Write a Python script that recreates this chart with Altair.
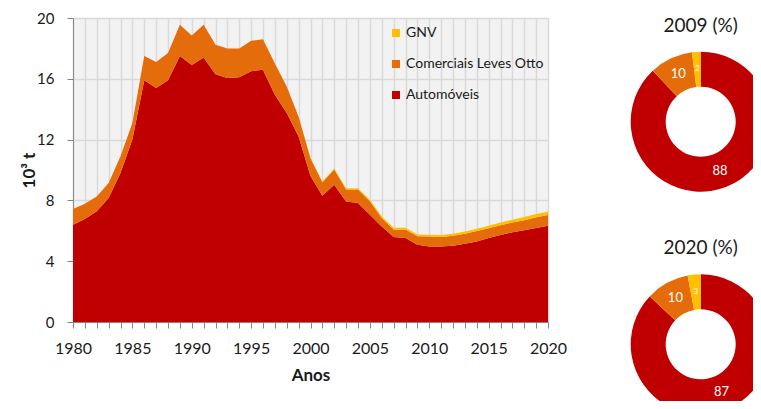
import altair as alt
import pandas as pd

# ---------------- data ----------------
years = list(range(1980, 2021))
automoveis = [6.40, 6.77, 7.28, 8.16, 9.80, 12.00, 15.90, 15.40, 15.90, 17.50,
              16.90, 17.40, 16.30, 16.05, 16.10, 16.50, 16.60, 14.95, 13.75, 12.20,
              9.60, 8.30, 9.03, 7.93, 7.83, 7.06, 6.29, 5.59, 5.53, 5.08,
              4.97, 4.97, 5.02, 5.15, 5.30, 5.52, 5.72, 5.90, 6.03, 6.18, 6.34]
comerciais = [1.03, 1.01, 0.98, 0.98, 1.10, 1.10, 1.60, 1.70, 1.80, 2.06,
              1.95, 2.16, 1.94, 1.95, 1.90, 2.00, 2.00, 2.05, 1.75, 1.30,
              1.17, 0.90, 1.00, 0.79, 0.88, 0.89, 0.56, 0.50, 0.56, 0.56,
              0.65, 0.62, 0.65, 0.66, 0.68, 0.65, 0.65, 0.64, 0.67, 0.71, 0.70]
gnv = [0.0] * 20 + [0.03, 0.05, 0.07, 0.08, 0.09, 0.10, 0.10, 0.11, 0.11, 0.11,
                    0.12, 0.13, 0.14, 0.15, 0.16, 0.17, 0.18, 0.19, 0.20, 0.21, 0.22]

series_names = ["GNV", "Comerciais Leves Otto", "Automóveis"]
series_colors = ["#FFC000", "#E46C0A", "#C00000"]
stack_rank = {"Automóveis": 0, "Comerciais Leves Otto": 1, "GNV": 2}

donut_titles = ["2009 (%)", "2020 (%)"]
share_2009 = [88, 10, 2]   # Automóveis, Comerciais Leves Otto, GNV
share_2020 = [87, 10, 3]
donut_series = ["Automóveis", "Comerciais Leves Otto", "GNV"]

y_ticks = [0, 4, 8, 12, 16, 20]

# ---------------- tables ----------------
rows = []
for i, yr in enumerate(years):
    for name, vals in (("Automóveis", automoveis), ("Comerciais Leves Otto", comerciais), ("GNV", gnv)):
        rows.append({"year": yr, "series": name, "value": vals[i], "ord": stack_rank[name]})
df = pd.DataFrame(rows)

def donut_df(shares):
    return pd.DataFrame({"series": donut_series, "value": shares,
                         "ord": [stack_rank[s] for s in donut_series]})

FONT = "Lato"
color_scale = alt.Scale(domain=series_names, range=series_colors)

area = alt.Chart(df).mark_area(interpolate="linear").encode(
    x=alt.X("year:Q",
            scale=alt.Scale(domain=[1980, 2020], nice=False, zero=False),
            axis=alt.Axis(values=years, format="d", labelOverlap=False, labelFlush=False,
                          labelExpr="datum.value % 5 == 0 ? datum.label : ''",
                          title="Anos", grid=True)),
    y=alt.Y("value:Q", stack="zero",
            scale=alt.Scale(domain=[0, 20], nice=False),
            axis=alt.Axis(values=y_ticks, title="10³ t", grid=True,
                          labelFontSize=15, labelPadding=13, titlePadding=-2)),
    color=alt.Color("series:N", scale=color_scale,
                    legend=alt.Legend(title=None, orient="none", legendX=316, legendY=8,
                                      symbolType="square", symbolSize=64, symbolStrokeWidth=0,
                                      labelFontSize=14, labelFont=FONT, labelColor="#1a1a1a",
                                      rowPadding=17, labelOffset=3, padding=0)),
    order=alt.Order("ord:Q", sort="ascending"),
)

CX = 627.7
CENTERS_Y = [103.7, 326.3]
TITLE_Y = [8, 229.7]

layers = [area]
for title, shares, cy, ty in zip(donut_titles, [share_2009, share_2020], CENTERS_Y, TITLE_Y):
    d = donut_df(shares)
    arc = alt.Chart(d).mark_arc(innerRadius=35, outerRadius=70).encode(
        theta=alt.Theta("value:Q", stack=True),
        color=alt.Color("series:N", scale=color_scale),
        order=alt.Order("ord:Q", sort="ascending"),
        x=alt.value(CX), y=alt.value(cy),
    )
    lab = alt.Chart(d).mark_text(radius=52.5, color="white", font=FONT).encode(
        theta=alt.Theta("value:Q", stack=True),
        order=alt.Order("ord:Q", sort="ascending"),
        text=alt.Text("value:Q"),
        size=alt.condition("datum.value < 5", alt.value(8), alt.value(13)),
        x=alt.value(CX), y=alt.value(cy),
    )
    ttl = alt.Chart(pd.DataFrame({"t": [title]})).mark_text(
        font=FONT, fontSize=19, color="#1a1a1a", baseline="middle", align="center"
    ).encode(text="t:N", x=alt.value(CX), y=alt.value(ty))
    layers += [arc, lab, ttl]

chart = alt.layer(*layers).resolve_scale(theta="independent").properties(
    width=475, height=304,
    autosize=alt.AutoSizeParams(type="none"),
    padding={"left": 65, "top": 10, "right": 205, "bottom": 79},
).configure_view(
    fill="#F2F2F2", stroke="transparent"
).configure_axis(
    domainColor="#868686", tickColor="#868686", tickSize=6,
    gridColor="#D9D9D9", gridWidth=1.5,
    labelFont=FONT, labelFontSize=16, labelColor="#1a1a1a",
    titleFont=FONT, titleFontSize=17, titleFontWeight="bold", titleColor="#1a1a1a",
).configure_axisX(labelPadding=12, titlePadding=11)

chart.save("out.html", embed_options={"renderer": "svg", "actions": False})
